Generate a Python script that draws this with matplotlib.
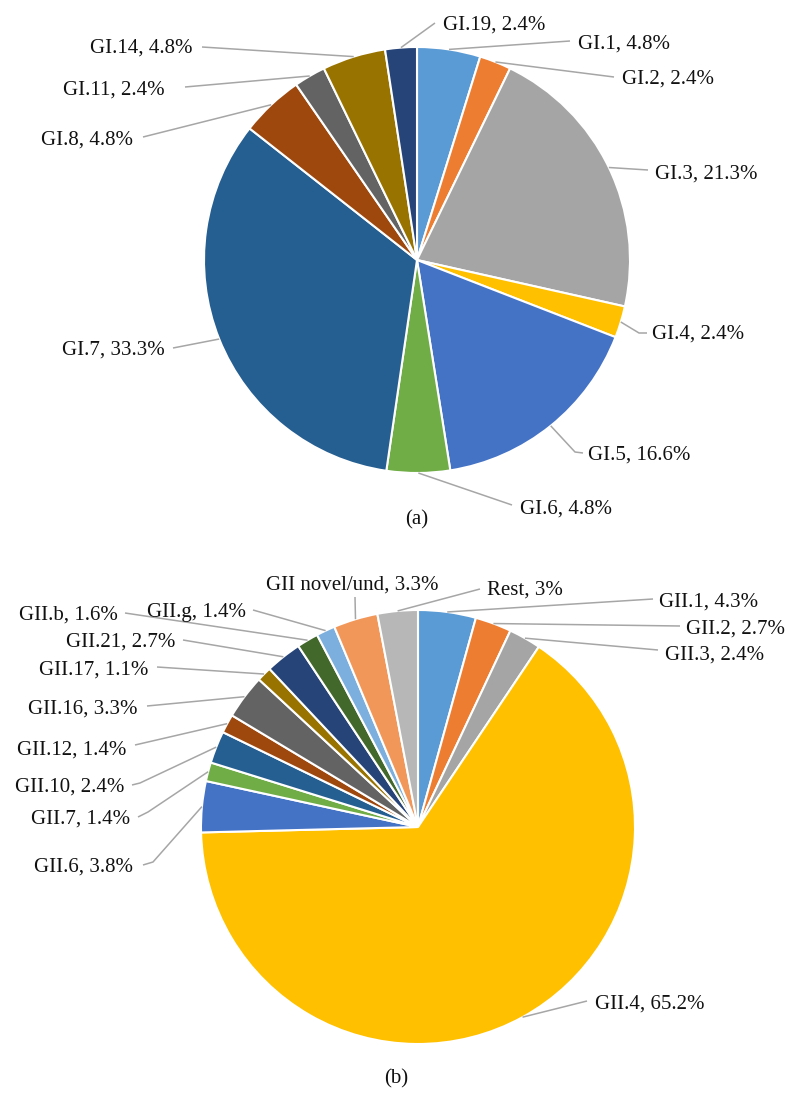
import numpy as np
import matplotlib
matplotlib.use("Agg")
import matplotlib.pyplot as plt

# ---------------- data ----------------
gi_labels = ["GI.1", "GI.2", "GI.3", "GI.4", "GI.5", "GI.6", "GI.7", "GI.8",
             "GI.11", "GI.14", "GI.19"]
gi_values = [4.8, 2.4, 21.3, 2.4, 16.6, 4.8, 33.3, 4.8, 2.4, 4.8, 2.4]
gi_colors = ["#5B9BD5", "#ED7D31", "#A5A5A5", "#FFC000", "#4472C4", "#70AD47",
             "#255E91", "#9E480E", "#636363", "#997300", "#264478"]

gii_labels = ["GII.1", "GII.2", "GII.3", "GII.4", "GII.6", "GII.7", "GII.10",
              "GII.12", "GII.16", "GII.17", "GII.21", "GII.b", "GII.g",
              "GII novel/und", "Rest"]
gii_values = [4.3, 2.7, 2.4, 65.2, 3.8, 1.4, 2.4, 1.4, 3.3, 1.1, 2.7, 1.6, 1.4,
              3.3, 3]
gii_colors = ["#5B9BD5", "#ED7D31", "#A5A5A5", "#FFC000", "#4472C4", "#70AD47",
              "#255E91", "#9E480E", "#636363", "#997300", "#264478", "#43682B",
              "#7CAFDD", "#F1975A", "#B7B7B7"]

# ---------------- layout (pixel coordinates, y from top) ----------------
W, H = 797, 1098
FONT = "Liberation Serif"
FS = 15
CAP_HALF = 7
LINE_COLOR = "#A6A6A6"

# text x, text y (cap centre), ha, leader-line points after the wedge edge
gi_layout = [
    (578, 42, "left", [(570, 41)]),
    (622, 77, "left", [(614, 77)]),
    (655, 172, "left", [(648, 170)]),
    (652, 332, "left", [(639, 333), (647, 333)]),
    (588, 453, "left", [(575, 452), (583, 453)]),
    (520, 507, "left", [(512, 505)]),
    (165, 348, "right", [(173, 348)]),
    (133, 138, "right", [(143, 137)]),
    (165, 88, "right", [(185, 87)]),
    (193, 46, "right", [(202, 47)]),
    (443, 23, "left", [(435, 23)]),
]
gii_layout = [
    (659, 600, "left", [(653, 599)]),
    (686, 627, "left", [(680, 626)]),
    (665, 653, "left", [(658, 650)]),
    (595, 1002, "left", [(587, 1001)]),
    (133, 865, "right", [(153, 862), (143, 865)]),
    (130, 817, "right", [(148, 812), (138, 817)]),
    (124, 785, "right", [(140, 783), (132, 785)]),
    (126, 748, "right", [(135, 745)]),
    (138, 707, "right", [(147, 706)]),
    (148, 668, "right", [(157, 667)]),
    (175, 640, "right", [(183, 640)]),
    (118, 613, "right", [(125, 613)]),
    (246, 610, "right", [(253, 610)]),
    (352, 583, "center", [(355, 597)]),
    (487, 588, "left", [(480, 589)]),
]


def Y(py):
    return H - py


fig = plt.figure(figsize=(W / 100, H / 100), dpi=100)
ax = fig.add_axes([0, 0, 1, 1])


def label(x, y, s, ha):
    ax.text(x, Y(y + CAP_HALF), s, ha=ha, va="baseline", fontsize=FS,
            family=FONT, color="#111111")


def draw_pie(values, colors, labels, layout, center, radius):
    wedges, _ = ax.pie(values, colors=colors, startangle=90, counterclock=False,
                       center=(center[0], Y(center[1])), radius=radius,
                       wedgeprops=dict(edgecolor="white", linewidth=1.5))
    for w, lab, val, (tx, ty, ha, pts) in zip(wedges, labels, values, layout):
        ang = np.deg2rad((w.theta1 + w.theta2) / 2)
        ex = w.center[0] + w.r * np.cos(ang)
        ey = w.center[1] + w.r * np.sin(ang)
        xs = [ex] + [p[0] for p in pts]
        ys = [ey] + [Y(p[1]) for p in pts]
        ax.plot(xs, ys, color=LINE_COLOR, lw=1.1, solid_capstyle="butt", zorder=1)
        label(tx, ty, f"{lab}, {val:g}%", ha)


draw_pie(gi_values, gi_colors, gi_labels, gi_layout, (417, 260), 213)
draw_pie(gii_values, gii_colors, gii_labels, gii_layout, (418, 827), 217)

label(417, 517, "(a)", "center")
label(396, 1076, "(b)", "center")

ax.set_xlim(0, W)
ax.set_ylim(0, H)
ax.set_aspect("auto")
ax.axis("off")

fig.savefig("out.png", dpi=100, facecolor="white")
